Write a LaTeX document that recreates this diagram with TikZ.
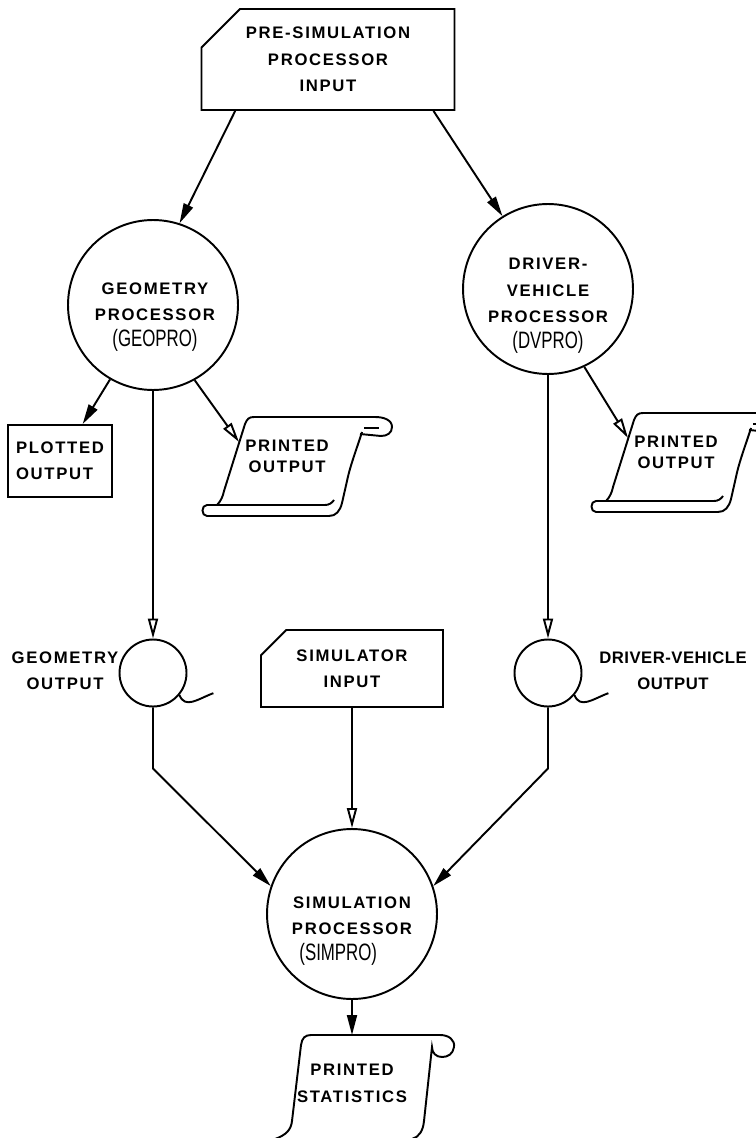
\documentclass[tikz,border=0pt]{standalone}
\usepackage{fontspec}
\setmainfont{Liberation Sans}[LetterSpace=10]
\newfontfamily\parenfont{Liberation Sans}[FakeStretch=0.71]
\newfontfamily\tightfont{Liberation Sans}[LetterSpace=3]
\newcommand\pn[1]{{\parenfont\mdseries\fontsize{13.5}{15}\selectfont #1}}
\usetikzlibrary{arrows.meta,shapes.misc}
\tikzset{pics/printout/.style={code={
  \draw (-70,-49) .. controls (-66,-45) and (-64,-40) .. (-63,-35) -- (-42,32) .. controls (-40,37) and (-38,39) .. (-33,39) -- (88,39)
    .. controls (97,39) and (105,36) .. (105,29) .. controls (105,23) and (100,20) .. (94,20) -- (73,22);
  \draw (75,24) .. controls (70,8) and (63,-10) .. (60,-25) -- (55,-47) .. controls (53,-55) and (49,-60) .. (42,-60) -- (-80,-60)
    .. controls (-86,-60) and (-86,-49) .. (-80,-49) -- (38,-49) .. controls (42,-49) and (45,-47) .. (47,-44);
  \draw (77,28) -- (92,28);
  \coordinate (-in) at (-48,14);
}}}
\tikzset{pics/listing/.style={code={
  \draw (-77,-56) .. controls (-66,-52) and (-61,-47) .. (-60,-38) -- (-51,38) .. controls (-50,45) and (-47,48) .. (-41,48) -- (88,48)
    .. controls (97,48) and (103,43) .. (102,36) .. controls (101,29) and (96,26) .. (90,26) .. controls (84,26) and (80,30) .. (80,36)
    -- (72,-38) .. controls (71,-48) and (67,-54) .. (60,-56);
  \coordinate (-top) at (0,48);
}}}
\begin{document}
\begin{tikzpicture}[x=0.02cm, y=0.02cm, line width=1.1pt, every node/.style={font=\bfseries\fontsize{9.5}{15}\selectfont}]
  \tikzstyle{proc}=[draw,circle,minimum size=3.4cm,inner sep=0pt]
  \tikzstyle{words}=[align=center,inner sep=0pt]
  \tikzstyle{card}=[draw,chamfered rectangle,chamfered rectangle corners=north west,chamfered rectangle xsep=0.75cm,align=center,inner sep=0pt]
  \tikzstyle{tape}=[draw,circle,minimum size=1.34cm,inner sep=0pt]
  \tikzstyle{flow}=[-{Triangle[length=4mm,width=2mm]}]
  \tikzstyle{outflow}=[-{Triangle[open,length=4mm,width=2mm]}]
  \useasboundingbox (0,0) rectangle (756,-1138);
  \node[card,minimum width=5.06cm,minimum height=2.02cm] (prein) at (328,-59.5) {PRE-SIMULATION\\PROCESSOR\\INPUT};
  \node[proc] (geopro) at (153,-305) {};
  \node[words] (geotext) at (155,-317) {GEOMETRY\\PROCESSOR\\\pn{(GEOPRO)}};
  \node[proc] (dvpro) at (548,-289) {};
  \node[words] (dvtext) at (548,-306) {DRIVER-\\VEHICLE\\PROCESSOR\\\pn{(DVPRO)}};
  \node[draw,minimum width=2.08cm,minimum height=1.44cm,align=left] (plotted) at (60,-461) {PLOTTED\\OUTPUT};
  \pic (geodoc) at (287,-456) {printout};
  \node[words,font=\bfseries\fontsize{9.5}{12}\selectfont] (geoprint) at (287,-456) {PRINTED\\OUTPUT};
  \pic (dvdoc) at (676,-452) {printout};
  \node[words,font=\bfseries\fontsize{9.5}{12}\selectfont] (dvprint) at (676,-452) {PRINTED\\OUTPUT};
  \node[tape] (geotape) at (153,-673) {};
  \node[words] (geotapelabel) at (65,-670.5) {GEOMETRY\\OUTPUT};
  \node[tape] (dvtape) at (548,-673) {};
  \node[words,font=\tightfont\bfseries\fontsize{9.5}{15}\selectfont] (dvtapelabel) at (673,-670.5) {DRIVER-VEHICLE\\OUTPUT};
  \node[card,minimum width=3.64cm,minimum height=1.54cm,chamfered rectangle xsep=0.7cm] (siminput) at (352,-668.5) {SIMULATOR\\INPUT};
  \node[proc] (simpro) at (352,-914) {};
  \node[words] (simtext) at (352,-931) {SIMULATION\\PROCESSOR\\\pn{(SIMPRO)}\hspace*{0.55cm}};
  \pic (statsdoc) at (352,-1083) {listing};
  \node[words,font=\bfseries\fontsize{9.5}{15.5}\selectfont] (stats) at (352,-1083.5) {PRINTED\\STATISTICS};
  \draw (geotape.-40) .. controls +(6,-14) and +(-16,-6) .. +(34,2);
  \draw (dvtape.-40) .. controls +(6,-14) and +(-16,-6) .. +(34,2);
  \draw[flow] (prein.209) -- (geopro.72);
  \draw[flow] (prein.334) -- (dvpro.122);
  \draw[flow] (geopro.240) -- (plotted);
  \draw[outflow] (geopro.299) -- (geodoc-in);
  \draw[outflow] (geopro) -- (geotape);
  \draw[outflow] (dvpro.295) -- (dvdoc-in);
  \draw[outflow] (dvpro) -- (dvtape);
  \draw[flow] (geotape.south) -- ++(0,-61) -- (simpro.161);
  \draw[flow] (dvtape.south) -- ++(0,-61) -- (simpro.19);
  \draw[outflow] (siminput) -- (simpro);
  \draw[flow] (simpro.south) -- (simpro.south |- statsdoc-top);
\end{tikzpicture}
\end{document}
